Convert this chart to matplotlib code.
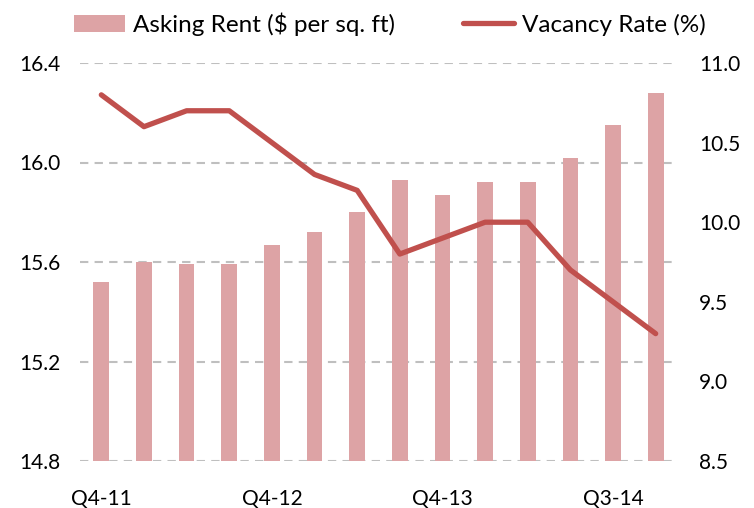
import matplotlib.pyplot as plt
import numpy as np

plt.rcParams['font.family'] = ['Lato', 'DejaVu Sans']

# Data
quarters = ['Q4-11', '', '', '', 'Q4-12', '', '', '', 'Q4-13', '', '', '', 'Q3-14', '']
asking_rent = [15.52, 15.60, 15.59, 15.59, 15.67, 15.72, 15.80,
               15.93, 15.87, 15.92, 15.92, 16.02, 16.15, 16.28]
vacancy_rate = [10.8, 10.6, 10.7, 10.7, 10.5, 10.3, 10.2,
                9.8, 9.9, 10.0, 10.0, 9.7, 9.5, 9.3]

bar_color = '#DDA3A5'
line_color = '#C0504D'

fig = plt.figure(figsize=(7.54, 5.08), dpi=100)
ax = fig.add_axes([80 / 754, 1 - 461 / 508, 597 / 754, 398 / 508])
ax2 = ax.twinx()

x = np.arange(len(asking_rent))
bars = ax.bar(x, np.array(asking_rent) - 14.8, bottom=14.8, width=0.37,
              color=bar_color, label='Asking Rent ($ per sq. ft)', zorder=2)
line, = ax2.plot(x, vacancy_rate, color=line_color, linewidth=3.8,
                 solid_capstyle='round', label='Vacancy Rate (%)', zorder=3)

ax.set_xlim(-0.5, len(x) - 0.5)
ax.set_ylim(14.8, 16.4)
ax.set_yticks([14.8, 15.2, 15.6, 16.0, 16.4])
ax.set_yticklabels(['14.8', '15.2', '15.6', '16.0', '16.4'])
ax2.set_ylim(8.5, 11.0)
ax2.set_yticks([8.5, 9.0, 9.5, 10.0, 10.5, 11.0])
ax2.set_yticklabels(['8.5', '9.0', '9.5', '10.0', '10.5', '11.0'])

ax.set_xticks(x)
ax.set_xticklabels(quarters)

ax.yaxis.grid(True, color='#BFBFBF', linestyle=(0, (4, 3)), linewidth=1.5, zorder=0)
ax.set_axisbelow(True)

for a in (ax, ax2):
    for s in a.spines.values():
        s.set_visible(False)
    a.tick_params(length=0, labelsize=15, colors='black')
ax.tick_params(axis='y', pad=14)
ax2.tick_params(axis='y', pad=16)
ax.tick_params(axis='x', pad=20)

fig.legend(handles=[bars, line], loc='center', bbox_to_anchor=(390 / 754, 1 - 24 / 508),
           ncol=2, frameon=False, fontsize=17.5, handlelength=2.1, handleheight=0.7,
           handletextpad=0.33, columnspacing=2.8)

fig.savefig('out.png', dpi=100)
